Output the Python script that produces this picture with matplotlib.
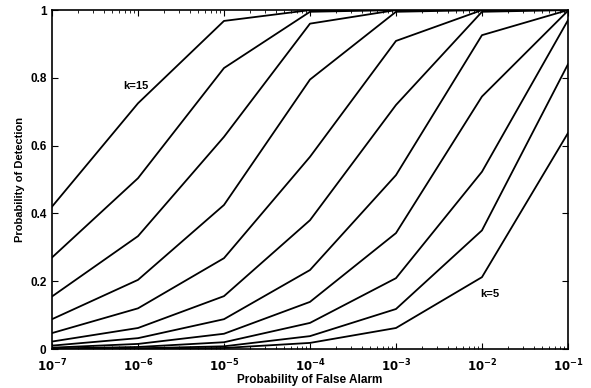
import matplotlib
matplotlib.use("Agg")
import matplotlib.pyplot as plt
from matplotlib.ticker import LogLocator, FixedLocator, NullFormatter

# -------------------------------
# DATA
# -------------------------------
pfa = [1e-7, 1e-6, 1e-5, 1e-4, 1e-3, 1e-2, 1e-1]

pd_k5 = [0.0002, 0.0007, 0.003, 0.018, 0.062, 0.212, 0.637]
pd_k6 = [0.0005, 0.002, 0.008, 0.038, 0.118, 0.35, 0.84]
pd_k7 = [0.0015, 0.006, 0.02, 0.077, 0.209, 0.523, 0.97]
pd_k8 = [0.004, 0.015, 0.045, 0.139, 0.342, 0.745, 0.998]
pd_k9 = [0.01, 0.032, 0.088, 0.233, 0.513, 0.926, 1.0]
pd_k10 = [0.022, 0.062, 0.156, 0.38, 0.72, 0.995, 1.0]
pd_k11 = [0.047, 0.12, 0.268, 0.567, 0.909, 1.0, 1.0]
pd_k12 = [0.088, 0.204, 0.425, 0.795, 0.995, 1.0, 1.0]
pd_k13 = [0.155, 0.333, 0.626, 0.96, 1.0, 1.0, 1.0]
pd_k14 = [0.27, 0.504, 0.829, 0.995, 1.0, 1.0, 1.0]
pd_k15 = [0.42, 0.725, 0.968, 1.0, 1.0, 1.0, 1.0]

curves = [pd_k5, pd_k6, pd_k7, pd_k8, pd_k9, pd_k10,
          pd_k11, pd_k12, pd_k13, pd_k14, pd_k15]

x_tick_labels = [r"$10^{-7}$", r"$10^{-6}$", r"$10^{-5}$", r"$10^{-4}$",
                 r"$10^{-3}$", r"$10^{-2}$", r"$10^{-1}$"]
y_ticks = [0, 0.2, 0.4, 0.6, 0.8, 1]
y_tick_labels = ["0", "0.2", "0.4", "0.6", "0.8", "1"]

# -------------------------------
# PLOT
# -------------------------------
plt.rcParams['font.family'] = ['Liberation Sans', 'DejaVu Sans']
plt.rcParams['font.weight'] = 'bold'
plt.rcParams['mathtext.default'] = 'bf'

fig = plt.figure(figsize=(5.91, 3.88), dpi=100)
ax = fig.add_axes([0.088, 0.1005, 0.873, 0.8735])

for pd_vals in curves:
    ax.plot(pfa, pd_vals, color='black', linewidth=1.3)

ax.set_xscale('log')
ax.set_xlim(1e-7, 1e-1)
ax.set_ylim(0, 1)

ax.xaxis.set_major_locator(FixedLocator(pfa))
ax.set_xticklabels(x_tick_labels)
ax.xaxis.set_minor_locator(LogLocator(base=10, subs=range(2, 10), numticks=10))
ax.xaxis.set_minor_formatter(NullFormatter())
ax.yaxis.set_major_locator(FixedLocator(y_ticks))
ax.set_yticklabels(y_tick_labels)

ax.tick_params(which='both', direction='in', top=True, right=True,
               labelsize=8.5, colors='black')
ax.tick_params(which='major', length=4)
ax.tick_params(which='minor', length=2)
ax.tick_params(axis='x', which='major', pad=6)
ax.tick_params(axis='y', which='major', pad=4)
for lbl in ax.get_xticklabels() + ax.get_yticklabels():
    lbl.set_fontweight('bold')

for s in ax.spines.values():
    s.set_linewidth(1.2)

ax.set_xlabel("Probability of False Alarm", fontsize=8.5, fontweight='bold',
              labelpad=0)
ax.set_ylabel("Probability of Detection", fontsize=8, fontweight='bold',
              labelpad=4)

ax.text(6.7e-7, 0.776, "k=15", fontsize=8, fontweight='bold', va='center')
ax.text(9.5e-3, 0.162, "k=5", fontsize=8, fontweight='bold', va='center')

fig.savefig("out.png", dpi=100)
